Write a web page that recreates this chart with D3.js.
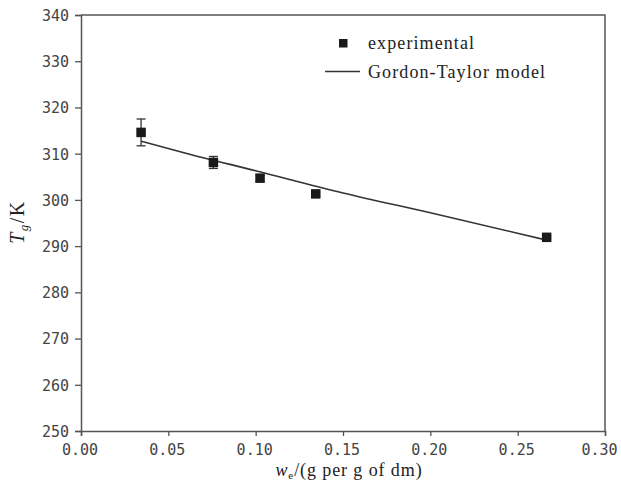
<!DOCTYPE html>
<html><head><meta charset="utf-8">
<script src="https://cdn.jsdelivr.net/npm/d3@7"></script>
<style>body{margin:0;background:#fff}</style>
</head><body>
<svg id="c" width="621" height="487"></svg>
<script>
// Data
const expX = [0.0344, 0.0758, 0.1025, 0.1344, 0.2666];
const expY = [314.6, 308.1, 304.7, 301.3, 291.9];
const expErr = [2.9, 1.3, 0.6, 0.4, 0.3];
const modelX = [0.0344, 0.06, 0.10, 0.15, 0.20, 0.2666];
const modelY = [312.7, 310.1, 306.3, 301.5, 297.2, 291.3];
const xTicks = [0, 0.05, 0.10, 0.15, 0.20, 0.25, 0.30];
const yTicks = [250, 260, 270, 280, 290, 300, 310, 320, 330, 340];
const legendLabels = ["experimental", "Gordon-Taylor model"];

const svg = d3.select("#c");
const L = 81, R = 605, T = 15, B = 431;
const x = d3.scaleLinear().domain([0, 0.30]).range([L, R]);
const y = d3.scaleLinear().domain([250, 340]).range([B, T]);
const axisCol = "#555";
const monoFont = "'DejaVu Sans Mono', monospace";
const serif = "'Liberation Serif', 'Times New Roman', serif";

// frame (top and right)
svg.append("path").attr("d", `M${L},${T}H${R}V${B}`).attr("fill","none")
  .attr("stroke", axisCol).attr("stroke-width", 1.5);

const xa = svg.append("g").attr("transform", `translate(0,${B})`)
  .call(d3.axisBottom(x).tickValues(xTicks).tickFormat(d3.format(".2f")).tickSizeOuter(0).tickSize(5).tickPadding(8));
const ya = svg.append("g").attr("transform", `translate(${L},0)`)
  .call(d3.axisLeft(y).tickValues(yTicks).tickFormat(d3.format("d")).tickSizeOuter(0).tickSize(6).tickPadding(6));
[xa, ya].forEach(a => {
  a.select(".domain").attr("stroke", axisCol).attr("stroke-width", 1.5);
  a.selectAll(".tick line").attr("stroke", axisCol).attr("stroke-width", 1.3);
  a.selectAll(".tick text").attr("fill", "#444").style("font-family", monoFont).style("font-size", "15px");
});
ya.selectAll(".tick text").attr("dy", "0.36em");
xa.selectAll(".tick text").attr("dx", d => d === 0.30 ? -6 : -1.5);

// model line
const line = d3.line().x(d => x(d[0])).y(d => y(d[1])).curve(d3.curveMonotoneX);
svg.append("path").datum(modelX.map((v, i) => [v, modelY[i]]))
  .attr("d", line).attr("fill", "none").attr("stroke", "#333").attr("stroke-width", 1.6);

// error bars
const eb = svg.append("g").attr("stroke", "#333").attr("stroke-width", 1.3);
expX.forEach((v, i) => {
  const cx = x(v), y1 = y(expY[i] + expErr[i]), y2 = y(expY[i] - expErr[i]);
  eb.append("line").attr("x1", cx).attr("x2", cx).attr("y1", y1).attr("y2", y2);
  eb.append("line").attr("x1", cx - 4.5).attr("x2", cx + 4.5).attr("y1", y1).attr("y2", y1);
  eb.append("line").attr("x1", cx - 4.5).attr("x2", cx + 4.5).attr("y1", y2).attr("y2", y2);
});
// markers
const ms = 9.5;
svg.append("g").selectAll("rect").data(expX).join("rect")
  .attr("x", d => x(d) - ms / 2).attr("y", (d, i) => y(expY[i]) - ms / 2)
  .attr("width", ms).attr("height", ms).attr("fill", "#1a1a1a");

// legend
const lg = svg.append("g");
lg.append("rect").attr("x", 339).attr("y", 39).attr("width", 8.5).attr("height", 8.5).attr("fill", "#1a1a1a");
lg.append("line").attr("x1", 325).attr("x2", 360).attr("y1", 71.5).attr("y2", 71.5).attr("stroke", "#333").attr("stroke-width", 1.5);
legendLabels.forEach((t, i) => {
  lg.append("text").attr("x", 368).attr("y", 49 + i * 28.5).text(t)
    .style("font-family", serif).style("font-size", "18px").style("letter-spacing", "1.1px").attr("fill", "#222");
});

// axis titles
const xt = svg.append("text").attr("x", 349).attr("y", 476).attr("text-anchor", "middle")
  .style("font-family", serif).style("font-size", "18px").style("letter-spacing", "0.9px").attr("fill", "#222");
xt.append("tspan").style("font-style", "italic").text("w");
xt.append("tspan").attr("dy", 3).style("font-size", "11px").text("e");
xt.append("tspan").attr("dy", -3).text("/(g per g of dm)");

const yt = svg.append("text").attr("transform", "translate(24,222) rotate(-90)").attr("text-anchor", "middle")
  .style("font-family", serif).style("font-size", "20px").style("letter-spacing", "1.5px").attr("fill", "#222");
yt.append("tspan").style("font-style", "italic").text("T");
yt.append("tspan").attr("dy", 4).style("font-size", "13px").style("font-style", "italic").text("g");
yt.append("tspan").attr("dy", -4).text("/K");
</script>
</body></html>
